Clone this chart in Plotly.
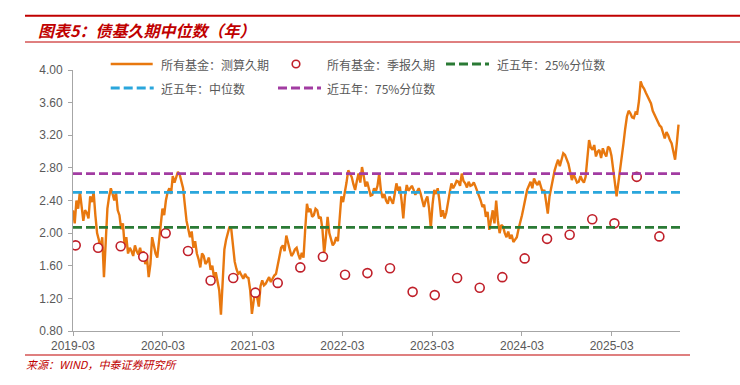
import plotly.graph_objects as go
import pandas as pd

# ---------------- data ----------------
line_start = "2019-03-20"          # first observation of the estimated-duration series
line_step = "7D"                    # weekly sampling of the estimated-duration series
estimated_duration = [
    2.28, 2.12, 2.40, 2.30, 2.51, 2.32, 2.15, 2.28, 2.25, 2.18,
    2.45, 2.38, 2.50, 2.22, 2.00, 1.92, 1.80, 1.95, 1.46, 1.88,
    2.30, 2.45, 2.55, 2.48, 2.40, 2.50, 2.28, 2.22, 2.05, 2.12,
    1.85, 1.95, 1.75, 1.82, 1.78, 1.72, 1.85, 1.78, 1.74, 1.82,
    1.72, 1.78, 1.62, 1.70, 1.46, 1.62, 1.95, 1.85, 1.75, 1.70,
    1.90, 2.05, 2.30, 2.22, 2.40, 2.50, 2.55, 2.48, 2.70, 2.62,
    2.68, 2.75, 2.72, 2.65, 2.55, 2.35, 2.15, 2.05, 1.95, 2.02,
    1.82, 1.90, 1.75, 1.68, 1.58, 1.75, 1.72, 1.62, 1.65, 1.70,
    1.55, 1.60, 1.45, 1.52, 1.40, 1.30, 1.00, 1.45, 1.80, 1.92,
    2.00, 2.08, 2.05, 1.85, 1.65, 1.56, 1.50, 1.52, 1.47, 1.44,
    1.50, 1.46, 1.45, 1.30, 1.01, 1.20, 1.32, 1.22, 1.10, 1.35,
    1.42, 1.36, 1.38, 1.42, 1.46, 1.40, 1.44, 1.48, 1.50, 1.62,
    1.75, 1.82, 1.85, 1.78, 1.97, 1.90, 1.80, 1.72, 1.75, 1.80,
    1.82, 1.74, 1.68, 1.76, 1.70, 2.05, 2.36, 2.26, 2.30, 2.20,
    2.22, 2.30, 2.28, 2.18, 2.20, 2.05, 1.75, 1.95, 2.20, 2.00,
    1.92, 1.85, 1.88, 1.95, 1.90, 2.20, 2.45, 2.38, 2.48, 2.62,
    2.77, 2.72, 2.69, 2.60, 2.53, 2.64, 2.73, 2.62, 2.81, 2.70,
    2.57, 2.63, 2.53, 2.46, 2.47, 2.55, 2.51, 2.58, 2.73, 2.52,
    2.43, 2.48, 2.40, 2.36, 2.45, 2.40, 2.36, 2.48, 2.61, 2.52,
    2.57, 2.40, 2.18, 2.45, 2.59, 2.52, 2.55, 2.58, 2.53, 2.47,
    2.51, 2.55, 2.49, 2.40, 2.32, 2.40, 2.45, 2.30, 2.06, 2.35,
    2.53, 2.48, 2.55, 2.40, 2.20, 2.28, 2.18, 2.25, 2.40, 2.50,
    2.61, 2.55, 2.59, 2.64, 2.63, 2.58, 2.73, 2.64, 2.61, 2.56,
    2.63, 2.58, 2.59, 2.62, 2.57, 2.52, 2.45, 2.40, 2.32, 2.35,
    2.20, 2.26, 2.04, 2.15, 2.28, 2.12, 2.40, 2.15, 2.00, 2.10,
    2.08, 2.00, 1.95, 2.02, 1.93, 1.98, 1.89, 1.92, 1.95, 2.05,
    2.12, 2.22, 2.32, 2.45, 2.53, 2.58, 2.63, 2.55, 2.67, 2.62,
    2.59, 2.64, 2.57, 2.50, 2.53, 2.40, 2.24, 2.45, 2.57, 2.66,
    2.77, 2.84, 2.90, 2.82, 2.92, 2.98, 2.96, 2.90, 2.85, 2.75,
    2.65, 2.72, 2.67, 2.62, 2.63, 2.70, 2.65, 2.62, 2.69, 2.90,
    3.14, 3.05, 3.02, 3.08, 2.94, 3.00, 3.02, 2.92, 3.04, 2.98,
    2.94, 3.06, 3.04, 2.95, 2.81, 2.62, 2.45, 2.60, 2.77, 2.95,
    3.10, 3.28, 3.43, 3.50, 3.47, 3.42, 3.41, 3.48, 3.47, 3.62,
    3.86, 3.80, 3.77, 3.72, 3.67, 3.62, 3.59, 3.50, 3.45, 3.40,
    3.37, 3.32, 3.30, 3.22, 3.16, 3.24, 3.20, 3.14, 3.10, 3.00,
    2.90, 3.10, 3.33,
]

quarter_dates = [
    "2019-03-31", "2019-06-30", "2019-09-30", "2019-12-31",
    "2020-03-31", "2020-06-30", "2020-09-30", "2020-12-31",
    "2021-03-31", "2021-06-30", "2021-09-30", "2021-12-31",
    "2022-03-31", "2022-06-30", "2022-09-30", "2022-12-31",
    "2023-03-31", "2023-06-30", "2023-09-30", "2023-12-31",
    "2024-03-31", "2024-06-30", "2024-09-30", "2024-12-31",
    "2025-03-31", "2025-06-30", "2025-09-30",
]
quarterly_duration = [
    1.85, 1.82, 1.84, 1.71, 2.00, 1.78, 1.42, 1.45, 1.27, 1.39,
    1.58, 1.71, 1.49, 1.51, 1.57, 1.28, 1.24, 1.45, 1.33, 1.46,
    1.69, 1.93, 1.98, 2.17, 2.12, 2.69, 1.96,
]

p25_5y = 2.07
median_5y = 2.50
p75_5y = 2.73

x_range = ["2019-03-20", "2025-12-23"]
tick_dates = ["2019-03-20", "2020-03-20", "2021-03-20", "2022-03-20",
              "2023-03-20", "2024-03-20", "2025-03-20"]
tick_labels = ["2019-03", "2020-03", "2021-03", "2022-03",
               "2023-03", "2024-03", "2025-03"]
y_ticks = [0.80, 1.20, 1.60, 2.00, 2.40, 2.80, 3.20, 3.60, 4.00]

names = ["所有基金：测算久期", "所有基金：季报久期", "近五年：25%分位数",
         "近五年：中位数", "近五年：75%分位数"]
title_text = "图表5：债基久期中位数（年）"
source_text = "来源：WIND，中泰证券研究所"

# ---------------- styles ----------------
ORANGE = "#E8780F"
RED_DOT = "#C0202A"
GREEN = "#2A7A35"
BLUE = "#2AA6DC"
PURPLE = "#A23CA2"
BRAND_RED = "#C00000"
GREY_TXT = "#595959"
AXIS_GREY = "#A6A6A6"
CJK = "Noto Sans CJK SC"
LAT = "Arial, Liberation Sans, sans-serif"
DASH = "9px,4px"

W, H = 740, 385
ML, MR, MT, MB = 73, 60, 70, 54
PW, PH = W - ML - MR, H - MT - MB


def px(xp):
    return (xp - ML) / PW


def py(yp):
    return (H - MB - yp) / PH


line_dates = pd.date_range(line_start, periods=len(estimated_duration), freq=line_step)

fig = go.Figure()
fig.add_trace(go.Scatter(x=line_dates, y=estimated_duration, mode="lines",
                         line=dict(color=ORANGE, width=2.4), name=names[0]))
fig.add_trace(go.Scatter(x=quarter_dates, y=quarterly_duration, mode="markers",
                         marker=dict(symbol="circle", size=9, color="white",
                                     line=dict(color=RED_DOT, width=1.6)),
                         name=names[1]))
for val, col, nm in [(p25_5y, GREEN, names[2]), (median_5y, BLUE, names[3]),
                     (p75_5y, PURPLE, names[4])]:
    fig.add_trace(go.Scatter(x=x_range, y=[val, val], mode="lines",
                             line=dict(color=col, width=2.8, dash=DASH), name=nm))

fig.update_layout(
    width=W, height=H, showlegend=False,
    margin=dict(l=ML, r=MR, t=MT, b=MB),
    paper_bgcolor="white", plot_bgcolor="white",
    xaxis=dict(type="date", range=x_range, tickmode="array", tickvals=tick_dates,
               ticktext=tick_labels, showgrid=False, zeroline=False,
               showline=True, linecolor=AXIS_GREY, linewidth=1,
               ticks="outside", ticklen=4, tickcolor=AXIS_GREY,
               tickfont=dict(family=LAT, size=12, color=GREY_TXT)),
    yaxis=dict(range=[0.8, 4.0], tickmode="array", tickvals=y_ticks,
               ticktext=[f"{v:.2f}" for v in y_ticks], showgrid=False,
               zeroline=False, showline=True, linecolor=AXIS_GREY, linewidth=1,
               ticks="outside", ticklen=4, tickcolor=AXIS_GREY,
               ticklabelstandoff=3,
               tickfont=dict(family=LAT, size=12, color=GREY_TXT)),
)

shapes = []
# header / footer rules
shapes.append(dict(type="line", xref="paper", yref="paper", x0=px(25), x1=px(740),
                   y0=py(15.7), y1=py(15.7), line=dict(color=BRAND_RED, width=2)))
shapes.append(dict(type="line", xref="paper", yref="paper", x0=px(25), x1=px(740),
                   y0=py(42), y1=py(42), line=dict(color=BRAND_RED, width=1)))
shapes.append(dict(type="line", xref="paper", yref="paper", x0=px(25), x1=px(690),
                   y0=py(355), y1=py(355), line=dict(color=BRAND_RED, width=1.2)))

# manual legend
legend_rows = [
    (110.7, 64, "line", ORANGE, names[0], 159),
    (296, 64, "dot", RED_DOT, names[1], 325),
    (446, 64, "dash", GREEN, names[2], 495),
    (110.7, 88, "dash", BLUE, names[3], 159),
    (278, 88, "dash", PURPLE, names[4], 325),
]
annotations = []
for x0, yy, kind, col, txt, tx in legend_rows:
    if kind == "line":
        shapes.append(dict(type="line", xref="paper", yref="paper", x0=px(x0), x1=px(x0 + 42),
                           y0=py(yy), y1=py(yy), line=dict(color=col, width=2.5)))
    elif kind == "dash":
        shapes.append(dict(type="line", xref="paper", yref="paper", x0=px(x0), x1=px(x0 + 43),
                           y0=py(yy), y1=py(yy), line=dict(color=col, width=2.8, dash=DASH)))
    else:
        r = 3.8
        shapes.append(dict(type="circle", xref="paper", yref="paper",
                           x0=px(x0 - r), x1=px(x0 + r), y0=py(yy + r), y1=py(yy - r),
                           fillcolor="white", line=dict(color=col, width=1.6)))
    annotations.append(dict(xref="paper", yref="paper", x=px(tx), y=py(yy),
                            xanchor="left", yanchor="middle", showarrow=False,
                            text=txt, font=dict(family=CJK, size=12, color=GREY_TXT)))

annotations.append(dict(xref="paper", yref="paper", x=px(36), y=py(30),
                        xanchor="left", yanchor="middle", showarrow=False,
                        text="<b><i>" + title_text + "</i></b>",
                        font=dict(family=CJK, size=16, color=BRAND_RED)))
annotations.append(dict(xref="paper", yref="paper", x=px(24), y=py(364),
                        xanchor="left", yanchor="middle", showarrow=False,
                        text="<i>" + source_text + "</i>",
                        font=dict(family=CJK, size=11, color=BRAND_RED)))

fig.update_layout(shapes=shapes, annotations=annotations)
fig.write_html("out.html", config={"displayModeBar": False},
               post_script="document.body.style.margin='0';document.body.style.overflow='hidden';")
